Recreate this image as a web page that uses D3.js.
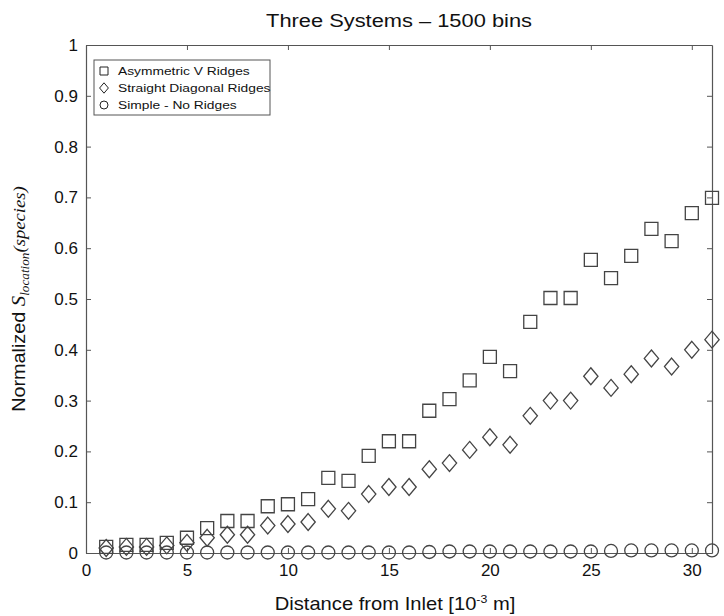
<!DOCTYPE html>
<html>
<head>
<meta charset="utf-8">
<script src="https://cdn.jsdelivr.net/npm/d3@7"></script>
<style>
  body { margin: 0; background: #fff; }
  text { font-family: Arial, "Liberation Sans", sans-serif; fill: #111; }
</style>
</head>
<body>
<div id="chart"></div>
<script>
// distances along the channel
const distance = d3.range(1, 32);

// asymmetric V ridges (squares)
const asymV = [0.012, 0.016, 0.016, 0.02, 0.03, 0.049, 0.063, 0.063, 0.092, 0.096,
    0.106, 0.148, 0.142, 0.191, 0.22, 0.22, 0.28, 0.303, 0.34, 0.386,
    0.358, 0.455, 0.502, 0.502, 0.577, 0.541, 0.585, 0.638, 0.614, 0.669, 0.699];

// straight diagonal ridges (diamonds)
const diagonal = [0.01, 0.012, 0.012, 0.015, 0.02, 0.03, 0.036, 0.036, 0.054, 0.057,
    0.061, 0.087, 0.083, 0.116, 0.13, 0.13, 0.165, 0.177, 0.203, 0.228,
    0.213, 0.27, 0.30, 0.30, 0.348, 0.325, 0.352, 0.383, 0.367, 0.40, 0.42];

// simple, no ridges (circles)
const simple = [0.001, 0.001, 0.001, 0.001, 0.001, 0.001, 0.001, 0.001, 0.001, 0.001,
    0.001, 0.001, 0.001, 0.001, 0.001, 0.001, 0.002, 0.003, 0.003, 0.003,
    0.003, 0.003, 0.003, 0.003, 0.003, 0.004, 0.005, 0.005, 0.005, 0.005, 0.005];

const xTicks = [0, 5, 10, 15, 20, 25, 30];
const yTicks = [0, 0.1, 0.2, 0.3, 0.4, 0.5, 0.6, 0.7, 0.8, 0.9, 1];
const seriesNames = ["Asymmetric V Ridges", "Straight Diagonal Ridges", "Simple - No Ridges"];
const seriesShapes = ["square", "diamond", "circle"];

const margin = {top: 45, right: 12, bottom: 63, left: 86},
    width = 724 - margin.left - margin.right,
    height = 616 - margin.top - margin.bottom;

const svg = d3.select("#chart").append("svg")
    .attr("width", 724).attr("height", 616);
const g = svg.append("g")
    .attr("transform", "translate(" + margin.left + "," + margin.top + ")");

const x = d3.scaleLinear().domain([0, 31]).range([0, width]);
const y = d3.scaleLinear().domain([0, 1]).range([height, 0]);

const axisColor = "#555";

// axes (ticks pointing inward, MATLAB style)
const xAxis = g.append("g").attr("transform", "translate(0," + height + ")")
    .call(d3.axisBottom(x).tickValues(xTicks).tickSizeInner(-5).tickSizeOuter(0).tickPadding(11));
const yAxis = g.append("g")
    .call(d3.axisLeft(y).tickValues(yTicks).tickSizeInner(-5).tickSizeOuter(0).tickPadding(8)
        .tickFormat(d => d === 0 || d === 1 ? d : d3.format(".1f")(d)));
const xTop = g.append("g")
    .call(d3.axisTop(x).tickValues(xTicks).tickSizeInner(-5).tickSizeOuter(0).tickFormat(""));
const yRight = g.append("g").attr("transform", "translate(" + width + ",0)")
    .call(d3.axisRight(y).tickValues(yTicks).tickSizeInner(-5).tickSizeOuter(0).tickFormat(""));

[xAxis, yAxis, xTop, yRight].forEach(a => {
    a.select(".domain").attr("stroke", axisColor).attr("stroke-width", 1.2);
    a.selectAll(".tick line").attr("stroke", axisColor);
    a.selectAll("text").style("font-size", "17px").style("fill", "#111");
});

// marker shapes
function markerPath(shape, s) {
    if (shape === "square") return d3.symbol().type(d3.symbolSquare).size(s * s)();
    if (shape === "circle") return d3.symbol().type(d3.symbolCircle).size(Math.PI * s * s / 4)();
    // diamond a bit taller than wide
    const w = s * 0.55, h = s * 0.65;
    return "M0," + (-h) + "L" + w + ",0L0," + h + "L" + (-w) + ",0Z";
}

const allSeries = [asymV, diagonal, simple];
allSeries.forEach((vals, i) => {
    g.append("g").selectAll("path")
        .data(vals)
        .enter().append("path")
        .attr("transform", (d, j) => "translate(" + x(distance[j]) + "," + y(d) + ")")
        .attr("d", markerPath(seriesShapes[i], 13))
        .attr("fill", "none")
        .attr("stroke", "#444")
        .attr("stroke-width", 1.3);
});

// legend (text in the original is a bit wide, so stretch it)
const legend = g.append("g").attr("transform", "translate(8,15)");
legend.append("rect")
    .attr("width", 176).attr("height", 55)
    .attr("fill", "#fff").attr("stroke", axisColor).attr("stroke-width", 1);
seriesNames.forEach((name, i) => {
    const ly = 11 + i * 17;
    legend.append("path")
        .attr("transform", "translate(10," + ly + ")")
        .attr("d", markerPath(seriesShapes[i], 8))
        .attr("fill", "none").attr("stroke", "#222").attr("stroke-width", 1);
    legend.append("text")
        .attr("transform", "translate(24," + (ly + 4) + ") scale(1.2,1)")
        .style("font-size", "11.5px")
        .text(name);
});

// title
svg.append("text")
    .attr("transform", "translate(" + (margin.left + width / 2) + ",27) scale(1.15,1)")
    .attr("text-anchor", "middle")
    .style("font-size", "19px")
    .text("Three Systems \u2013 1500 bins");

// x label
const xl = svg.append("text")
    .attr("transform", "translate(" + (margin.left + width / 2 - 4) + ",610) scale(1.12,1)")
    .attr("text-anchor", "middle")
    .style("font-size", "18px");
xl.append("tspan").text("Distance from Inlet [10");
xl.append("tspan").attr("dy", -7).style("font-size", "11px").text("-3");
xl.append("tspan").attr("dy", 7).text(" m]");

// y label
const yl = svg.append("text")
    .attr("transform", "translate(25," + (margin.top + height / 2) + ") rotate(-90) scale(1.1,1)")
    .attr("text-anchor", "middle")
    .style("font-size", "18px");
yl.append("tspan").text("Normalized ");
yl.append("tspan").style("font-family", "'Liberation Serif', serif")
    .style("font-style", "italic").style("font-size", "19px").text("S");
yl.append("tspan").attr("dy", 4).style("font-family", "'Liberation Serif', serif")
    .style("font-style", "italic").style("font-size", "12px").text("location");
yl.append("tspan").attr("dy", -4).style("font-family", "'Liberation Serif', serif")
    .style("font-style", "italic").style("font-size", "17px").text("(species)");
</script>
</body>
</html>
